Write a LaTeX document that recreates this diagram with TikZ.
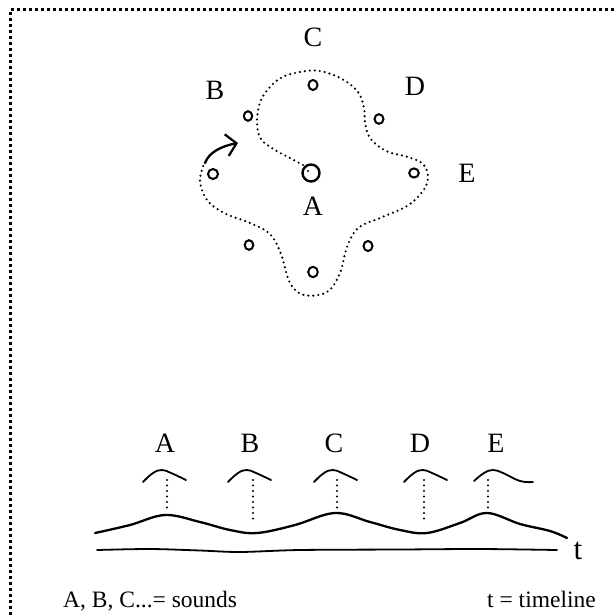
\documentclass[tikz,border=0pt]{standalone}
\usepackage{fontspec}
\setmainfont{Liberation Serif}
\usetikzlibrary{arrows.meta}
\tikzset{
  frame/.style={line width=3pt, dash pattern=on 3pt off 3pt},
  dotcurve/.style={line width=2.4pt, line cap=round, dash pattern=on 0pt off 5pt},
  vdots/.style={line width=2.2pt, line cap=round, dash pattern=on 0pt off 5.5pt},
  pen/.style={line width=2.3pt, line cap=round, line join=round},
  thinpen/.style={line width=1.8pt, line cap=round},
  spot/.style={line width=2pt},
  biglabel/.style={inner sep=0pt, font=\fontsize{28}{30}\selectfont},
  smalllabel/.style={inner sep=0pt, anchor=base west, font=\fontsize{23.5}{25}\selectfont},
}
\newcommand{\bumpat}[1]{plot[smooth, tension=0.7] coordinates {(#1-19,482) (#1-9,473) (#1,470) (#1+9,473) (#1+24,480)}}
\begin{document}
\begin{tikzpicture}[x=1pt,y=-1pt]
\useasboundingbox (0,0) rectangle (615,615);
% frame
\draw[frame] (10,615) -- (10,10) -- (615,10);

% ---------- top sketch ----------
\node[biglabel] (lC) at (313,37) {C};
\node[biglabel] (lB) at (215,90) {B};
\node[biglabel] (lD) at (415,86) {D};
\node[biglabel] (lE) at (467,173) {E};
\node[biglabel] (lA) at (313,206) {A};

% small circles
\draw[spot] (313,85) circle[x radius=4.5, y radius=5];
\draw[spot] (248,116) circle[x radius=4.2, y radius=4.8];
\draw[spot] (379,119) circle[x radius=4.5, y radius=4.8];
\draw[spot] (213,174) circle[x radius=5, y radius=5];
\draw[spot] (414,173) circle[x radius=4.8, y radius=4.6];
\draw[spot] (249,245) circle[x radius=4.3, y radius=4.8];
\draw[spot] (368,246) circle[x radius=4.5, y radius=5];
\draw[spot] (313,272) circle[x radius=4.8, y radius=5.2];
% centre circle
\draw[line width=2.4pt] (311,173) circle[radius=8.5];
\fill (308,171) circle[radius=1.2];

% dotted route
\draw[dotcurve] plot[smooth, tension=0.6] coordinates {
 (303,165) (290,158) (275,150) (261,139) (257,121) (262,98) (279,79) (300,72)
 (320,71) (342,79) (358,92) (364,108) (365,122) (370,138) (386,151) (408,157)
 (423,164) (428,177) (423,191) (407,206) (380,218) (358,228) (347,247) (340,273)
 (327,292) (304,295) (290,283) (281,254) (270,234) (250,223) (224,213) (207,200)
 (200,181) (204,164)};
% arrow
\coordinate (as) at (205,163);
\coordinate (ae) at (238,143);
\draw[pen, -{Straight Barb[length=10pt, width=22pt, line width=2.2pt]}] (as) .. controls (209,152) and (222,146) .. (ae);

% ---------- bottom sketch ----------
\node[biglabel] (tA) at (165,443) {A};
\node[biglabel] (tB) at (250,443) {B};
\node[biglabel] (tC) at (334,443) {C};
\node[biglabel] (tD) at (420,443) {D};
\node[biglabel] (tE) at (496,443) {E};

\draw[thinpen] \bumpat{162};
\draw[thinpen] \bumpat{247};
\draw[thinpen] \bumpat{333};
\draw[thinpen] \bumpat{423};
\draw[thinpen] plot[smooth, tension=0.7] coordinates {(474,481) (484,473) (493,470) (503,473) (520,481) (533,482)};

% dotted verticals
\draw[vdots] (167,480) -- (167,508);
\draw[vdots] (253,480) -- (253,523);
\draw[vdots] (337,480) -- (337,510);
\draw[vdots] (424,480) -- (424,523);
\draw[vdots] (488,480) -- (488,508);

% wave
\draw[pen] plot[smooth, tension=0.6] coordinates {
 (95,533) (130,525) (165,515) (200,522) (230,530) (257,533) (295,525) (335,513)
 (370,522) (400,530) (427,533) (460,523) (487,513) (520,524) (550,531) (567,538)};
% timeline
\draw[thinpen] plot[smooth, tension=0.5] coordinates {
 (97,550) (150,549) (200,550.5) (240,552) (300,550) (400,549.5) (480,549) (557,550)};
\node[inner sep=0pt, anchor=base, font=\fontsize{31}{33}\selectfont] (tt) at (578,559) {t};

% legend
\node[smalllabel] (leg1) at (63,607) {A, B, C...= sounds};
\node[smalllabel] (leg2) at (487,607) {t = timeline};
\end{tikzpicture}
\end{document}
